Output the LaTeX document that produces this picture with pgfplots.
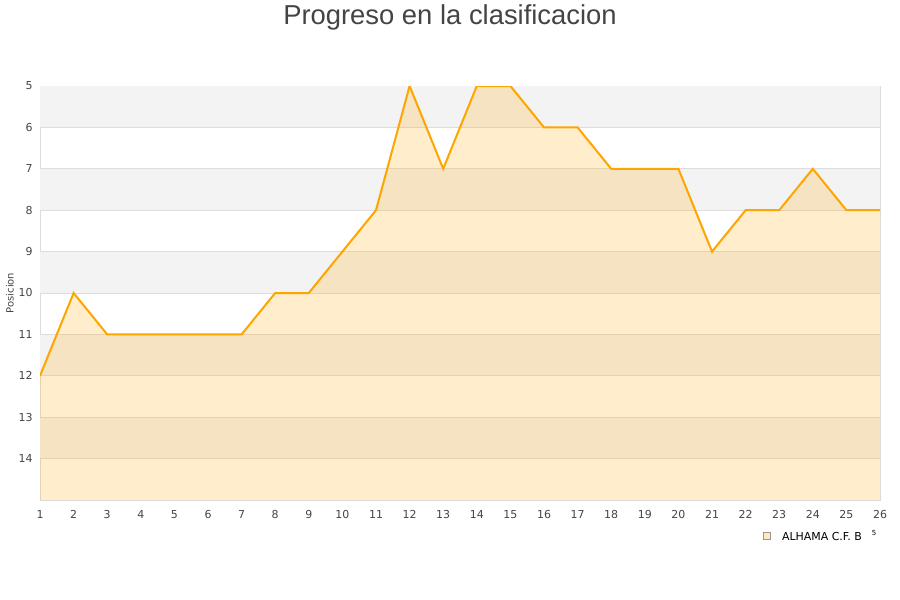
\documentclass[border=0pt]{standalone}
\usepackage{pgfplots}
\pgfplotsset{compat=1.18}
\usepackage{fontspec}
\setmainfont{DejaVu Sans}
\newfontfamily\titlefont{Liberation Sans}
\definecolor{lineor}{HTML}{FFA500}
\definecolor{band}{HTML}{F3F3F3}
\definecolor{gridc}{HTML}{DDDDDD}
\definecolor{txt}{HTML}{444444}
\begin{document}
\begin{tikzpicture}
\useasboundingbox (0bp,0bp) rectangle (900bp,600bp);
\node[font=\titlefont\fontsize{27.5}{30}\selectfont, text=txt] at (450bp,583bp) {Progreso en la clasificacion};
\begin{axis}[
  at={(40bp,100bp)}, anchor=south west,
  width=840bp, height=414bp, scale only axis,
  xmin=1, xmax=26, ymin=5, ymax=15,
  y dir=reverse,
  xtick={1,...,26}, ytick={5,...,14},
  major tick length=0pt,
  axis line style={gridc},
  tick label style={font=\fontsize{11}{13}\selectfont, text=txt},
  /pgf/number format/assume math mode=true,
  yticklabel style={xshift=-4bp},
  xticklabel style={yshift=-7bp},
  ylabel={Posicion}, ylabel style={font=\fontsize{10}{12}\selectfont, text=txt, yshift=-2bp},
  legend style={at={(0.861,-0.087)}, anchor=west, draw=none, fill=none, font=\fontsize{11}{13}\selectfont, text=black, legend cell align=left, inner sep=0pt},
]
\fill[band] (axis cs:1,5) rectangle (axis cs:26,6);
\fill[band] (axis cs:1,7) rectangle (axis cs:26,8);
\fill[band] (axis cs:1,9) rectangle (axis cs:26,10);
\fill[band] (axis cs:1,11) rectangle (axis cs:26,12);
\fill[band] (axis cs:1,13) rectangle (axis cs:26,14);
\draw[gridc, line width=0.8bp] (axis cs:1,6) -- (axis cs:26,6);
\draw[gridc, line width=0.8bp] (axis cs:1,7) -- (axis cs:26,7);
\draw[gridc, line width=0.8bp] (axis cs:1,8) -- (axis cs:26,8);
\draw[gridc, line width=0.8bp] (axis cs:1,9) -- (axis cs:26,9);
\draw[gridc, line width=0.8bp] (axis cs:1,10) -- (axis cs:26,10);
\draw[gridc, line width=0.8bp] (axis cs:1,11) -- (axis cs:26,11);
\draw[gridc, line width=0.8bp] (axis cs:1,12) -- (axis cs:26,12);
\draw[gridc, line width=0.8bp] (axis cs:1,13) -- (axis cs:26,13);
\draw[gridc, line width=0.8bp] (axis cs:1,14) -- (axis cs:26,14);
\addplot[fill=lineor, fill opacity=0.2, draw=none, forget plot] coordinates {
(1,15)(1,12)(2,10)(3,11)(4,11)(5,11)(6,11)(7,11)(8,10)(9,10)(10,9)(11,8)(12,5)(13,7)
(14,5)(15,5)(16,6)(17,6)(18,7)(19,7)(20,7)(21,9)(22,8)(23,8)(24,7)(25,8)(26,8)(26,15)} --cycle;
\addplot[lineor, line width=2bp,
  legend image code/.code={\draw[fill=lineor!25, draw=gray!80, line width=0.6bp] (0bp,-3.5bp) rectangle (7bp,3.5bp);}]
 coordinates {
(1,12)(2,10)(3,11)(4,11)(5,11)(6,11)(7,11)(8,10)(9,10)(10,9)(11,8)(12,5)(13,7)
(14,5)(15,5)(16,6)(17,6)(18,7)(19,7)(20,7)(21,9)(22,8)(23,8)(24,7)(25,8)(26,8)};
\addlegendentry{\hspace{9bp}ALHAMA C.F. B\raisebox{0.8ex}{\fontsize{7}{7}\selectfont\hspace{10bp}5}}
\end{axis}
\end{tikzpicture}
\end{document}
